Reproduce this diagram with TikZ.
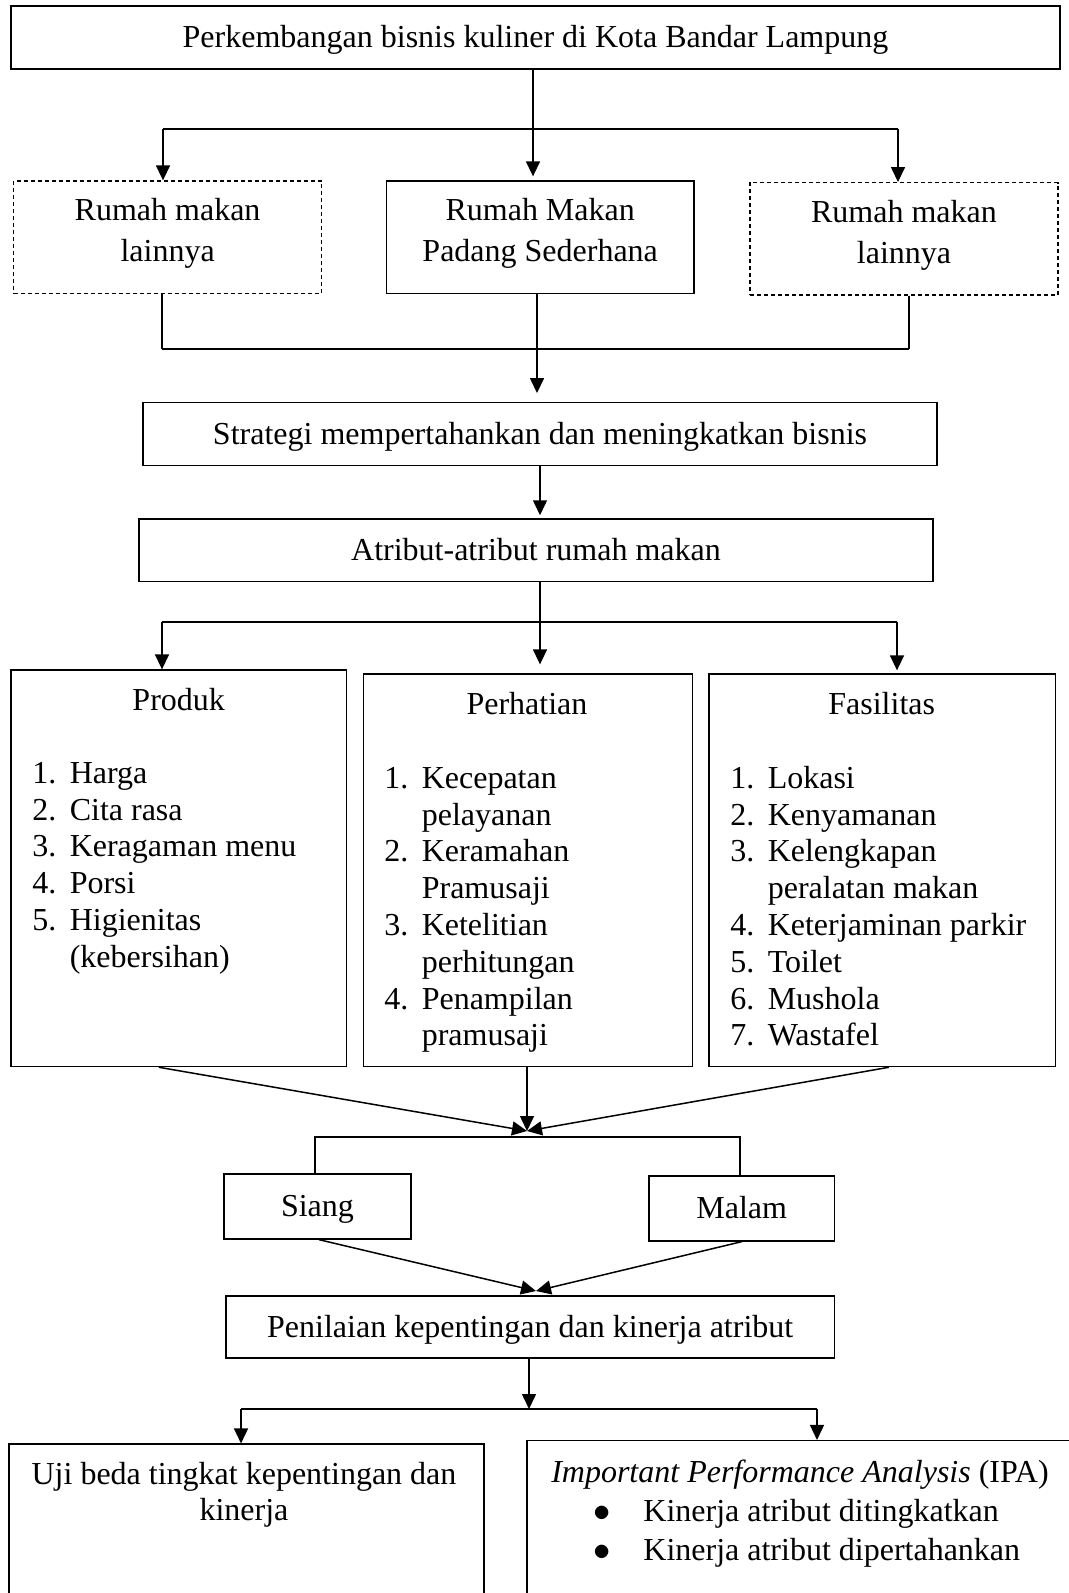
\documentclass[tikz,border=0pt]{standalone}
\usepackage{fontspec}
\setmainfont{Liberation Serif}
\usetikzlibrary{arrows.meta}

\tikzset{
	box/.style={draw, line width=0.65pt, inner sep=0pt, align=center, font=\fontsize{16pt}{20.8pt}\selectfont},
	onel/.style={text height=12pt, text depth=2pt},
	twol/.style={text height=31.8pt, text depth=7pt},
	dbox/.style={box, dash pattern=on 2pt off 1.5pt},
	txt/.style={inner sep=0pt, font=\fontsize{16pt}{18.4pt}\selectfont},
	arr/.style={-{Triangle[length=7.5pt,width=7pt]}, line width=0.75pt},
	bar/.style={line width=1pt}
}
\newcommand\bigdot{{\fontsize{18pt}{18pt}\selectfont$\bullet$}}

\begin{document}
\begin{tikzpicture}[x=0.5pt,y=-0.5pt]
			\useasboundingbox (0,0) rectangle (1069,1593);
			\clip (0,0) rectangle (1069,1593);

			% boxes
			\node[box,onel,minimum width=524.5pt,minimum height=31.5pt] (top) at (535.5,37.5) {Perkembangan bisnis kuliner di Kota Bandar Lampung};
			\node[dbox,twol,minimum width=153.9pt,minimum height=56.2pt] (rmA) at (167.6,237.2) {Rumah makan\\lainnya};
			\node[box,twol,minimum width=153.8pt,minimum height=56.2pt] (padang) at (540.2,237.2) {Rumah Makan\\Padang Sederhana};
			\node[dbox,twol,minimum width=154pt,minimum height=56.2pt] (rmB) at (904,238.9) {Rumah makan\\lainnya};
			\node[box,onel,minimum width=397pt,minimum height=31.5pt] (strategi) at (540,434.2) {Strategi mempertahankan dan meningkatkan bisnis};
			\node[box,onel,minimum width=397pt,minimum height=31.4pt] (atribut) at (536,550.3) {Atribut-atribut rumah makan};

			\node[box,minimum width=167.9pt,minimum height=198.3pt] (produk) at (178.8,868.3) {};
			\node[box,minimum width=164.5pt,minimum height=196.3pt] (perhatian) at (527.8,870.3) {};
			\node[box,minimum width=173.3pt,minimum height=196.3pt] (fasilitas) at (882.3,870.3) {};

			\node[txt,anchor=base] (produkT) at (178.7,710) {Produk};
			\node[txt,anchor=base west] (produkL) at (32,783.3) {\begin{tabular}[t]{@{}p{18.7pt}@{}l@{}}
				1. & Harga\\ 2. & Cita rasa\\ 3. & Keragaman menu\\ 4. & Porsi\\ 5. & Higienitas\\ & (kebersihan)
			\end{tabular}};
			\node[txt,anchor=base] (perhatianT) at (527,714) {Perhatian};
			\node[txt,anchor=base west] (perhatianL) at (384,788.3) {\begin{tabular}[t]{@{}p{18.7pt}@{}l@{}}
				1. & Kecepatan\\ & pelayanan\\ 2. & Keramahan\\ & Pramusaji\\ 3. & Ketelitian\\ & perhitungan\\ 4. & Penampilan\\ & pramusaji
			\end{tabular}};
			\node[txt,anchor=base] (fasilitasT) at (881.7,714) {Fasilitas};
			\node[txt,anchor=base west] (fasilitasL) at (730,788.3) {\begin{tabular}[t]{@{}p{18.7pt}@{}l@{}}
				1. & Lokasi\\ 2. & Kenyamanan\\ 3. & Kelengkapan\\ & peralatan makan\\ 4. & Keterjaminan parkir\\ 5. & Toilet\\ 6. & Mushola\\ 7. & Wastafel
			\end{tabular}};

			\node[box,onel,minimum width=93.5pt,minimum height=32.5pt] (siang) at (317.5,1206.5) {Siang};
			\node[box,onel,minimum width=92.8pt,minimum height=32.5pt] (malam) at (741.7,1208.5) {Malam};
			\node[box,onel,minimum width=304.3pt,minimum height=31pt] (penilaian) at (530.2,1327) {Penilaian kepentingan dan kinerja atribut};

			\node[box,minimum width=237.5pt,minimum height=97.9pt] (uji) at (246.5,1542) {};
			\node[box,minimum width=286.5pt,minimum height=99.7pt] (ipa) at (813.5,1540.3) {};
			\node[txt,anchor=base] (ujiT) at (244,1484) {\fontsize{16pt}{18pt}\selectfont\begin{tabular}[t]{@{}c@{}}
				Uji beda tingkat kepentingan dan\\ kinerja
			\end{tabular}};
			\node[txt,anchor=base] (ipaT) at (800,1482) {\textit{Important Performance Analysis} (IPA)};
			\node[txt,anchor=base west] (ipaL) at (593,1521) {\fontsize{16pt}{19.8pt}\selectfont\begin{tabular}[t]{@{}p{25pt}@{}l@{}}
				\bigdot & Kinerja atribut ditingkatkan\\ \bigdot & Kinerja atribut dipertahankan
			\end{tabular}};

			% junctions
			\coordinate (j1) at (533,129);
			\coordinate (j1l) at (163,129);
			\coordinate (j1r) at (898,129);
			\coordinate (j2) at (537,349);
			\coordinate (j2l) at (162,349);
			\coordinate (j2r) at (909,349);
			\coordinate (j3) at (540,621.7);
			\coordinate (j3l) at (162,621.7);
			\coordinate (j3r) at (897,621.7);
			\coordinate (c1) at (527,1131);
			\coordinate (j4l) at (315,1137);
			\coordinate (j4r) at (740,1137);
			\coordinate (c2) at (536,1291);
			\coordinate (j6) at (529,1409);
			\coordinate (j6l) at (241,1409);
			\coordinate (j6r) at (817,1409);

			% connectors
			\draw[arr,shorten >=2pt] (top.south -| j1) -- (padang.north -| j1);
			\draw[bar] (j1l) -- (j1r);
			\draw[arr] (j1l) -- (rmA.north -| j1l);
			\draw[arr] (j1r) -- (rmB.north -| j1r);

			\draw[line width=0.75pt] (rmA.south -| j2l) -- (j2l);
			\draw[line width=0.75pt] (rmB.south -| j2r) -- (j2r);
			\draw[bar] (j2l) -- (j2r);
			\draw[arr,shorten >=4.5pt] (padang.south -| j2) -- (strategi.north -| j2);
			\draw[arr,shorten >=1.5pt] (strategi.south) -- (atribut.north -| strategi.south);

			\draw[line width=0.75pt] (atribut.south -| j3) -- (j3);
			\draw[bar] (j3l) -- (j3r);
			\draw[arr] (j3l) -- (produk.north -| j3l);
			\draw[arr,shorten >=4.5pt] (j3) -- (perhatian.north -| j3);
			\draw[arr,shorten >=1.5pt] (j3r) -- (fasilitas.north -| j3r);

			\draw[arr] ([xshift=-10pt]produk.south) -- (c1);
			\draw[arr] (perhatian.south -| c1) -- (c1);
			\draw[arr] ([xshift=3.3pt]fasilitas.south) -- (c1);
			\draw[bar] (siang.north -| j4l) |- (j4r) -- (malam.north -| j4r);

			\draw[arr] ([xshift=0.75pt]siang.south) -- (c2);
			\draw[arr] (malam.south) -- (c2);

			\draw[arr] (penilaian.south -| j6) -- (j6);
			\draw[bar] (j6l) -- (j6r);
			\draw[arr] (j6l) -- (uji.north -| j6l);
			\draw[arr] (j6r) -- (ipa.north -| j6r);
\end{tikzpicture}
\end{document}
